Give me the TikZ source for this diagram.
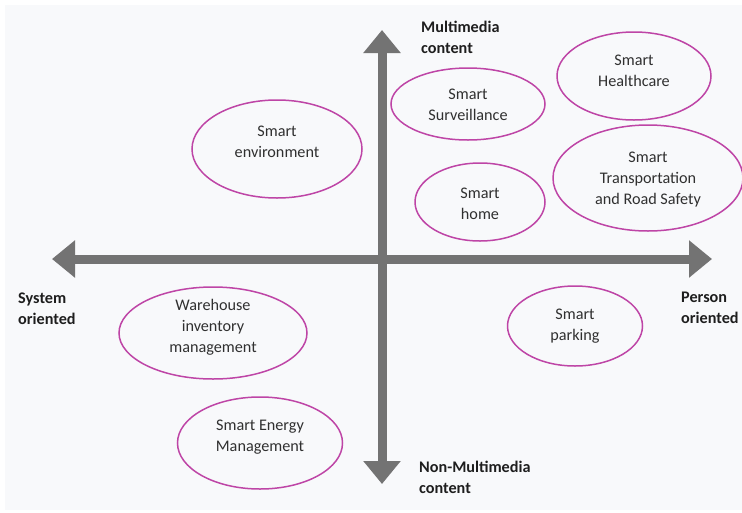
\documentclass[tikz,border=0pt]{standalone}
\usepackage{fontspec}
\setmainfont{Carlito}
\usetikzlibrary{shapes.geometric,arrows.meta}
\definecolor{bgc}{HTML}{F8F9FB}
\definecolor{axisc}{HTML}{737373}
\definecolor{ringc}{HTML}{BE45A6}
\definecolor{txtc}{HTML}{303030}
\definecolor{lblc}{HTML}{1E1E1E}
\tikzset{
  ring/.style={ellipse, draw=ringc, line width=1.5pt, inner sep=0pt},
  ringtext/.style={text=txtc, align=center, font=\fontsize{16.2}{21}\selectfont, inner sep=0pt},
  axislabel/.style={text=lblc, align=left, font=\bfseries\fontsize{16.2}{21}\selectfont, inner sep=0pt},
  axisline/.style={draw=axisc, line width=9pt, {Triangle[width=36pt,length=23pt]}-{Triangle[width=36pt,length=23pt]}}
}
\begin{document}
\begin{tikzpicture}[x=1pt,y=-1pt]
\useasboundingbox (0,0) rectangle (742,512);
\fill[white] (0,0) rectangle (742,512);
\fill[bgc] (5,5) rectangle (742,510);
% axes
\coordinate (top) at (382,30);
\coordinate (bottom) at (382,484);
\coordinate (left) at (52,259);
\coordinate (right) at (712,259);
\draw[axisline] (left) -- (right);
\draw[axisline] (bottom) -- (top);
% axis labels
\node[axislabel, anchor=north west] (mm) at (421,21) {Multimedia\\content};
\node[axislabel, anchor=north west] (nmm) at (419,461) {Non-Multimedia\\content};
\node[axislabel, anchor=north west] (sys) at (18,293) {System\\oriented};
\node[axislabel, anchor=north west] (per) at (681,292) {Person\\oriented};
% ellipses
\node[ring, minimum width=170pt, minimum height=98pt] (env) at (277,149) {};
\node[ringtext] (envt) at (277,141.5) {Smart\\environment};
\node[ring, minimum width=154pt, minimum height=72pt] (sur) at (468,104) {};
\node[ringtext] (surt) at (468,105) {Smart\\Surveillance};
\node[ring, minimum width=154pt, minimum height=88pt] (hc) at (634,76) {};
\node[ringtext] (hct) at (634,71) {Smart\\Healthcare};
\node[ring, minimum width=130pt, minimum height=78pt] (home) at (480,202) {};
\node[ringtext] (homet) at (480,204) {Smart\\home};
\node[ring, minimum width=190pt, minimum height=106pt] (tr) at (648,178) {};
\node[ringtext] (trt) at (648,179.5) {Smart\\Transportation\\and Road Safety};
\node[ring, minimum width=188pt, minimum height=92pt] (wh) at (213,333) {};
\node[ringtext] (wht) at (213,327) {Warehouse\\inventory\\management};
\node[ring, minimum width=135pt, minimum height=80pt] (park) at (575,326) {};
\node[ringtext] (parkt) at (575,326) {Smart\\parking};
\node[ring, minimum width=165pt, minimum height=92pt] (en) at (260,443) {};
\node[ringtext] (ent) at (260,437) {Smart Energy\\Management};
\end{tikzpicture}
\end{document}
